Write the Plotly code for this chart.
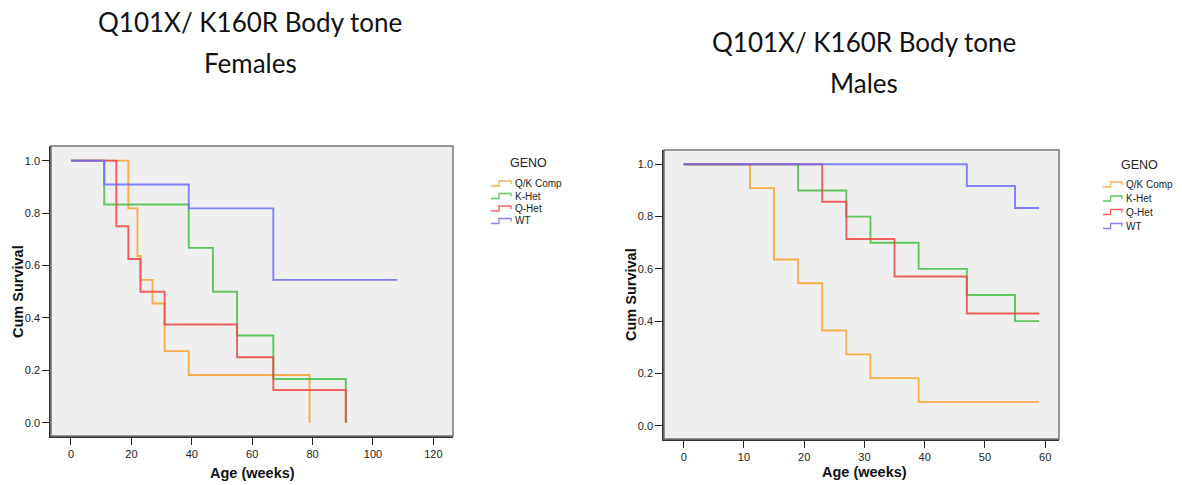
import plotly.graph_objects as go

W, H = 1182, 485

# ---------------- data ----------------
groups = ["Q/K Comp", "K-Het", "Q-Het", "WT"]
colors = ["rgb(247,163,50)", "rgb(70,190,70)", "rgb(240,70,70)", "rgb(110,110,250)"]

# Females (weeks, cumulative survival)
f_qk_t = [0, 19, 22, 23, 27, 31, 39, 79]
f_qk_s = [1.0, 0.818, 0.636, 0.545, 0.455, 0.273, 0.182, 0.0]
f_k_t = [0, 11, 39, 47, 55, 67, 91]
f_k_s = [1.0, 0.833, 0.667, 0.5, 0.333, 0.167, 0.0]
f_q_t = [0, 15, 19, 23, 31, 55, 67, 91]
f_q_s = [1.0, 0.75, 0.625, 0.5, 0.375, 0.25, 0.125, 0.0]
f_wt_t = [0, 11, 39, 67, 108]
f_wt_s = [1.0, 0.909, 0.818, 0.545, 0.545]

# Males
m_qk_t = [0, 11, 15, 19, 23, 27, 31, 39, 59]
m_qk_s = [1.0, 0.909, 0.636, 0.545, 0.364, 0.273, 0.182, 0.091, 0.091]
m_k_t = [0, 19, 27, 31, 39, 47, 55, 59]
m_k_s = [1.0, 0.9, 0.8, 0.7, 0.6, 0.5, 0.4, 0.4]
m_q_t = [0, 23, 27, 35, 47, 59]
m_q_s = [1.0, 0.857, 0.714, 0.571, 0.429, 0.429]
m_wt_t = [0, 47, 55, 59]
m_wt_s = [1.0, 0.917, 0.833, 0.833]

f_x_ticks = [0, 20, 40, 60, 80, 100, 120]
m_x_ticks = [0, 10, 20, 30, 40, 50, 60]
y_ticks = [0.0, 0.2, 0.4, 0.6, 0.8, 1.0]

titles = [("Q101X/ K160R Body tone", "Females"), ("Q101X/ K160R Body tone", "Males")]

females = [(f_qk_t, f_qk_s), (f_k_t, f_k_s), (f_q_t, f_q_s), (f_wt_t, f_wt_s)]
males = [(m_qk_t, m_qk_s), (m_k_t, m_k_s), (m_q_t, m_q_s), (m_wt_t, m_wt_s)]

# ---------------- helpers ----------------
def px(x):
    return x / W

def py(y):
    return 1 - y / H

fig = go.Figure()

for series, xa, ya in [(females, "x", "y"), (males, "x2", "y2")]:
    for (t, s), name, col in zip(series, groups, colors):
        fig.add_trace(go.Scatter(
            x=t, y=s, mode="lines", line=dict(color=col, width=1.9, shape="hv"),
            opacity=0.85, name=name, xaxis=xa, yaxis=ya, showlegend=False,
            hoverinfo="skip"))

axis_common = dict(showgrid=False, zeroline=False, ticks="outside", ticklen=7,
                   tickcolor="#222", showline=True, linecolor="#333", linewidth=1.5,
                   tickfont=dict(family="Liberation Sans, Arial", size=11, color="#222"),
                   automargin=False)

fig.update_layout(
    width=W, height=H,
    margin=dict(l=0, r=0, t=0, b=0),
    paper_bgcolor="white",
    plot_bgcolor="#EFEFEF",
    showlegend=False,
    xaxis=dict(domain=[px(51), px(453)], range=[-6.62, 126.5], tickvals=f_x_ticks,
               anchor="y", **axis_common),
    yaxis=dict(domain=[py(436), py(146)], range=[-0.0508, 1.056], tickvals=y_ticks,
               tickformat=".1f", anchor="x", **axis_common),
    xaxis2=dict(domain=[px(664), px(1059)], range=[-3.27, 62.3], tickvals=m_x_ticks,
                anchor="y2", **axis_common),
    yaxis2=dict(domain=[py(439), py(150)], range=[-0.0509, 1.0547], tickvals=y_ticks,
                tickformat=".1f", anchor="x2", **axis_common),
)

shapes = []
annotations = []

# frame rectangles (top / right in gray)
for xr, yr in [("x domain", "y domain"), ("x2 domain", "y2 domain")]:
    shapes.append(dict(type="rect", xref=xr, yref=yr, x0=0, x1=1, y0=0, y1=1,
                       line=dict(color="#777", width=1.5), layer="above"))

title_font = dict(family="Lato, Open Sans, sans-serif", size=26, color="#111")
# Titles
for (l1, l2), cx, y1, y2 in [(titles[0], 250, 22, 63), (titles[1], 864, 42, 83)]:
    annotations.append(dict(text=l1, x=px(cx), y=py(y1), xref="paper", yref="paper",
                            showarrow=False, xanchor="center", yanchor="middle", font=title_font))
    annotations.append(dict(text=l2, x=px(cx), y=py(y2), xref="paper", yref="paper",
                            showarrow=False, xanchor="center", yanchor="middle", font=title_font))

ax_font = dict(family="Liberation Sans, Arial", size=14.5, color="#111")
# axis titles
for cx, cy in [(252, 473), (864, 472)]:
    annotations.append(dict(text="<b>Age (weeks)</b>", x=px(cx), y=py(cy), xref="paper", yref="paper",
                            showarrow=False, xanchor="center", yanchor="middle", font=ax_font))
for cx, cy in [(18, 292), (631, 295)]:
    annotations.append(dict(text="<b>Cum Survival</b>", x=px(cx), y=py(cy), xref="paper", yref="paper",
                            showarrow=False, xanchor="center", yanchor="middle", textangle=-90,
                            font=ax_font))

# legends
leg_font = dict(family="Liberation Sans, Arial", size=10, color="#222")
for gx, gy, sx0, sx1, ys in [(508, 163, 491, 511, [183.5, 196, 208.5, 221]),
                             (1119, 165, 1103, 1122, [184.5, 198.5, 212, 226])]:
    annotations.append(dict(text="GENO", x=px(gx), y=py(gy), xref="paper", yref="paper",
                            showarrow=False, xanchor="left", yanchor="middle",
                            font=dict(family="Liberation Sans, Arial", size=12.5, color="#222")))
    for name, col, yy in zip(groups, colors, ys):
        xa = sx0
        xb = sx0 + (sx1 - sx0) * 0.4
        xc = sx1
        ylow = yy + 2.5
        yhigh = yy - 2.5
        path = (f"M {px(xa)},{py(ylow)} L {px(xb)},{py(ylow)} L {px(xb)},{py(yhigh)} "
                f"L {px(xc)},{py(yhigh)} L {px(xc)},{py(yy + 0.5)}")
        shapes.append(dict(type="path", xref="paper", yref="paper", path=path,
                           line=dict(color=col, width=1.3), opacity=0.85))
        annotations.append(dict(text=name, x=px(sx1 + 1.5), y=py(yy), xref="paper", yref="paper",
                                showarrow=False, xanchor="left", yanchor="middle", font=leg_font))

fig.update_layout(shapes=shapes, annotations=annotations)

fig.write_html("out.html", config={"displayModeBar": False},
               post_script="document.body.style.margin='0px';document.body.style.overflow='hidden';")
